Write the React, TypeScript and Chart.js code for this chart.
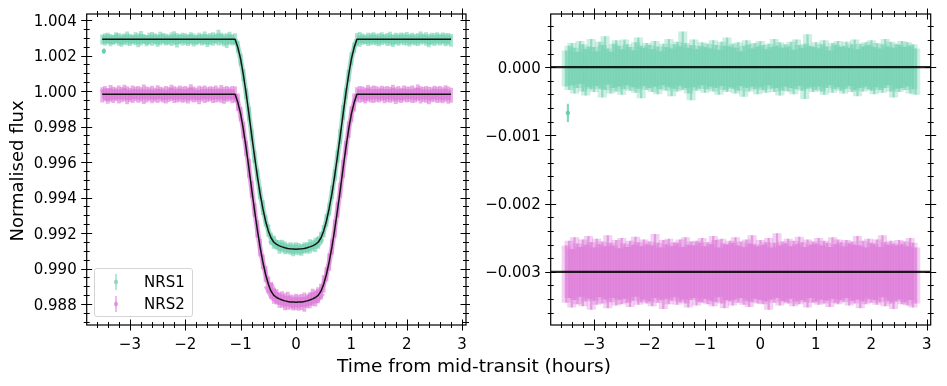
import React, { useEffect, useRef } from "react";
import { Chart, registerables } from "chart.js";

Chart.register(...registerables);

// ---------------- data ----------------
const X_MIN = -3.78;
const X_MAX = 3.07;
const X_TICKS = [-3, -2, -1, 0, 1, 2, 3];
const LC_Y_MIN = 0.98682;
const LC_Y_MAX = 1.00434;
const LC_Y_TICKS = [0.988, 0.99, 0.992, 0.994, 0.996, 0.998, 1.0, 1.002, 1.004];
const RES_Y_MIN = -0.00378;
const RES_Y_MAX = 0.00078;
const RES_Y_TICKS = [-0.003, -0.002, -0.001, 0.0];
const RES_LEVELS = [0.0, -0.003];
const SERIES = ["NRS1", "NRS2"];

// time from mid-transit (hours)
const TIME = [
  -3.5, -3.45, -3.4, -3.35, -3.3, -3.25, -3.2, -3.15, -3.1, -3.05,
  -3, -2.95, -2.9, -2.85, -2.8, -2.75, -2.7, -2.65, -2.6, -2.55,
  -2.5, -2.45, -2.4, -2.35, -2.3, -2.25, -2.2, -2.15, -2.1, -2.05,
  -2, -1.95, -1.9, -1.85, -1.8, -1.75, -1.7, -1.65, -1.6, -1.55,
  -1.5, -1.45, -1.4, -1.35, -1.3, -1.25, -1.2, -1.15, -1.1, -1.05,
  -1, -0.95, -0.9, -0.85, -0.8, -0.75, -0.7, -0.65, -0.6, -0.55,
  -0.5, -0.45, -0.4, -0.35, -0.3, -0.25, -0.2, -0.15, -0.1, -0.05,
  0, 0.05, 0.1, 0.15, 0.2, 0.25, 0.3, 0.35, 0.4, 0.45,
  0.5, 0.55, 0.6, 0.65, 0.7, 0.75, 0.8, 0.85, 0.9, 0.95,
  1, 1.05, 1.1, 1.15, 1.2, 1.25, 1.3, 1.35, 1.4, 1.45,
  1.5, 1.55, 1.6, 1.65, 1.7, 1.75, 1.8, 1.85, 1.9, 1.95,
  2, 2.05, 2.1, 2.15, 2.2, 2.25, 2.3, 2.35, 2.4, 2.45,
  2.5, 2.55, 2.6, 2.65, 2.7, 2.75, 2.8,
];

// transit model, NRS1 (offset +0.003)
const MODEL_NRS1 = [
  1.00292, 1.00292, 1.00292, 1.00292, 1.00292, 1.00292, 1.00292, 1.00292, 1.00292, 1.00292,
  1.00292, 1.00292, 1.00292, 1.00292, 1.00292, 1.00292, 1.00292, 1.00292, 1.00292, 1.00292,
  1.00292, 1.00292, 1.00292, 1.00292, 1.00292, 1.00292, 1.00292, 1.00292, 1.00292, 1.00292,
  1.00292, 1.00292, 1.00292, 1.00292, 1.00292, 1.00292, 1.00292, 1.00292, 1.00292, 1.00292,
  1.00292, 1.00292, 1.00292, 1.00292, 1.00292, 1.00292, 1.00292, 1.00292, 1.00292, 1.00245,
  1.0018, 1.0009, 0.99985, 0.9987, 0.9975, 0.99635, 0.99525, 0.99425, 0.9934, 0.99268,
  0.99212, 0.99172, 0.99148, 0.99136, 0.99128, 0.99122, 0.99117, 0.99113, 0.99111, 0.9911,
  0.99109, 0.9911, 0.99111, 0.99113, 0.99117, 0.99122, 0.99128, 0.99136, 0.99148, 0.99172,
  0.99212, 0.99268, 0.9934, 0.99425, 0.99525, 0.99635, 0.9975, 0.9987, 0.99985, 1.0009,
  1.0018, 1.00245, 1.00292, 1.00292, 1.00292, 1.00292, 1.00292, 1.00292, 1.00292, 1.00292,
  1.00292, 1.00292, 1.00292, 1.00292, 1.00292, 1.00292, 1.00292, 1.00292, 1.00292, 1.00292,
  1.00292, 1.00292, 1.00292, 1.00292, 1.00292, 1.00292, 1.00292, 1.00292, 1.00292, 1.00292,
  1.00292, 1.00292, 1.00292, 1.00292, 1.00292, 1.00292, 1.00292,
];

// transit model, NRS2
const MODEL_NRS2 = [
  0.99982, 0.99982, 0.99982, 0.99982, 0.99982, 0.99982, 0.99982, 0.99982, 0.99982, 0.99982,
  0.99982, 0.99982, 0.99982, 0.99982, 0.99982, 0.99982, 0.99982, 0.99982, 0.99982, 0.99982,
  0.99982, 0.99982, 0.99982, 0.99982, 0.99982, 0.99982, 0.99982, 0.99982, 0.99982, 0.99982,
  0.99982, 0.99982, 0.99982, 0.99982, 0.99982, 0.99982, 0.99982, 0.99982, 0.99982, 0.99982,
  0.99982, 0.99982, 0.99982, 0.99982, 0.99982, 0.99982, 0.99982, 0.99982, 0.99982, 0.99935,
  0.99871, 0.99782, 0.99678, 0.99564, 0.99445, 0.99331, 0.99222, 0.99123, 0.99039, 0.98968,
  0.98912, 0.98872, 0.98849, 0.98837, 0.98829, 0.98823, 0.98818, 0.98814, 0.98812, 0.98811,
  0.9881, 0.98811, 0.98812, 0.98814, 0.98818, 0.98823, 0.98829, 0.98837, 0.98849, 0.98872,
  0.98912, 0.98968, 0.99039, 0.99123, 0.99222, 0.99331, 0.99445, 0.99564, 0.99678, 0.99782,
  0.99871, 0.99935, 0.99982, 0.99982, 0.99982, 0.99982, 0.99982, 0.99982, 0.99982, 0.99982,
  0.99982, 0.99982, 0.99982, 0.99982, 0.99982, 0.99982, 0.99982, 0.99982, 0.99982, 0.99982,
  0.99982, 0.99982, 0.99982, 0.99982, 0.99982, 0.99982, 0.99982, 0.99982, 0.99982, 0.99982,
  0.99982, 0.99982, 0.99982, 0.99982, 0.99982, 0.99982, 0.99982,
];

// residual spread per time bin (units of 1e-5): upper / lower extent incl. error bars
const RES_NRS1_UP = [
  24, 31, 35, 28, 22, 38, 33, 26, 30, 41,
  29, 23, 37, 32, 45, 27, 22, 34, 39, 31,
  26, 40, 33, 29, 24, 36, 43, 31, 28, 35,
  32, 26, 38, 30, 23, 34, 29, 41, 27, 33,
  37, 30, 52, 35, 28, 32, 40, 26, 31, 36,
  29, 34, 27, 39, 32, 25, 37, 31, 43, 30,
  34, 28, 36, 23, 31, 39, 33, 27, 35, 30,
  38, 32, 26, 34, 29, 41, 31, 36, 28, 33,
  30, 37, 25, 40, 32, 28, 34, 48, 31, 29,
  36, 27, 33, 39, 30, 24, 35, 32, 38, 29,
  31, 37, 28, 33, 40, 26, 34, 30, 36, 32,
  39, 29, 35, 27, 33, 41, 30, 37, 28, 34,
  32, 38, 29, 36, 31, 33, 27,
];
const RES_NRS1_LO = [
  -28, -33, -26, -38, -30, -24, -35, -41, -29, -32,
  -36, -27, -31, -44, -33, -25, -38, -30, -35, -28,
  -40, -32, -26, -34, -29, -37, -31, -45, -27, -33,
  -30, -36, -28, -39, -32, -26, -34, -29, -42, -31,
  -35, -27, -33, -30, -38, -48, -29, -34, -31, -26,
  -37, -32, -28, -35, -30, -40, -27, -33, -36, -29,
  -31, -38, -34, -27, -43, -30, -35, -28, -32, -39,
  -29, -33, -37, -26, -31, -36, -30, -41, -34, -28,
  -35, -30, -39, -32, -27, -34, -46, -31, -29, -36,
  -33, -28, -35, -40, -30, -26, -37, -32, -29, -34,
  -38, -31, -27, -36, -33, -42, -30, -35, -28, -32,
  -34, -39, -29, -33, -37, -30, -26, -35, -44, -31,
  -36, -30, -33, -28, -38, -32, -40,
];
const RES_NRS2_UP = [
  38, 45, 33, 50, 41, 36, 47, 39, 52, 43,
  35, 48, 40, 44, 37, 53, 42, 38, 46, 34,
  49, 41, 36, 45, 39, 51, 43, 37, 47, 40,
  44, 38, 55, 42, 35, 46, 40, 48, 37, 43,
  41, 47, 36, 50, 39, 44, 38, 45, 42, 49,
  37, 43, 40, 52, 46, 35, 48, 41, 39, 45,
  42, 50, 38, 44, 36, 47, 41, 53, 40, 37,
  46, 39, 43, 49, 35, 42, 56, 38, 44, 41,
  48, 37, 45, 40, 51, 43, 36, 47, 39, 44,
  41, 49, 38, 45, 42, 36, 50, 40, 47, 43,
  37, 46, 41, 44, 39, 52, 38, 45, 35, 48,
  42, 40, 47, 36, 53, 43, 39, 45, 41, 38,
  46, 40, 44, 37, 49, 42, 35,
];
const RES_NRS2_LO = [
  -45, -38, -52, -41, -47, -36, -50, -43, -39, -55,
  -42, -48, -37, -46, -40, -53, -44, -38, -49, -41,
  -47, -39, -45, -51, -42, -36, -48, -44, -40, -46,
  -43, -50, -38, -45, -41, -54, -39, -47, -42, -37,
  -48, -44, -40, -46, -52, -41, -38, -49, -43, -45,
  -39, -47, -42, -50, -44, -37, -46, -53, -41, -43,
  -49, -40, -45, -38, -48, -42, -51, -44, -39, -46,
  -41, -47, -43, -55, -40, -45, -38, -49, -42, -44,
  -46, -39, -50, -43, -47, -41, -44, -52, -38, -45,
  -43, -48, -40, -46, -42, -51, -39, -45, -47, -41,
  -44, -38, -49, -42, -46, -40, -53, -43, -47, -39,
  -45, -41, -48, -44, -37, -50, -42, -46, -54, -43,
  -40, -47, -44, -49, -41, -52, -46,
];
const RES_NRS2_OFFSET = -0.003;
const RES_UNIT = 1e-5;

// single low first point of NRS1
const OUTLIER_TIME = [-3.47];
const OUTLIER_FLUX = [1.00225];
const OUTLIER_RESID = [-0.00067];
const OUTLIER_ERR = [0.00013];

// ---------------- style ----------------
const GREEN_BAND = "rgba(102,205,170,0.55)";
const PINK_BAND = "rgba(218,112,214,0.55)";
const GREEN_WIDE = "rgba(102,205,170,0.32)";
const PINK_WIDE = "rgba(218,112,214,0.32)";
const GREEN_CORE = "rgba(102,205,170,0.6)";
const PINK_CORE = "rgba(218,112,214,0.6)";
const GREEN_LINE = "rgba(102,205,170,0.8)";
const GREEN = "rgb(112,207,174)";
const GREEN_LEG = "rgba(102,205,170,0.6)";
const PINK_LEG = "rgba(218,112,214,0.6)";
const FAMILY = "'DejaVu Sans', sans-serif";
const TICK_FONT = "15px 'DejaVu Sans', sans-serif";

Chart.defaults.font.family = FAMILY;
Chart.defaults.font.size = 15;
Chart.defaults.color = "#000";

const minus = (s: string) => s.replace("-", "\u2212");
const fmtX = (v: number) => minus(String(v));
const fmtY = (v: number) => minus(v.toFixed(3));

function frameTicksPlugin(xMinor: number, yMinor: number, hLevels: number[], yTicks: number[]) {
  return {
    id: "frameTicks",
    afterDatasetsDraw(chart: any) {
      const { ctx, chartArea: a, scales } = chart;
      if (!hLevels.length) return;
      ctx.save();
      ctx.beginPath();
      ctx.rect(a.left, a.top, a.right - a.left, a.bottom - a.top);
      ctx.clip();
      ctx.strokeStyle = "rgba(0,0,0,0.85)";
      ctx.lineWidth = 2.3;
      for (const v of hLevels) {
        const y = scales.y.getPixelForValue(v);
        ctx.beginPath();
        ctx.moveTo(a.left, y);
        ctx.lineTo(a.right, y);
        ctx.stroke();
      }
      ctx.restore();
    },
    afterDraw(chart: any) {
      const { ctx, chartArea: a, scales } = chart;
      const xs = scales.x;
      const ys = scales.y;
      ctx.save();
      ctx.strokeStyle = "#000";
      ctx.lineWidth = 1;
      const seg = (x1: number, y1: number, x2: number, y2: number) => {
        ctx.beginPath();
        ctx.moveTo(x1, y1);
        ctx.lineTo(x2, y2);
        ctx.stroke();
      };
      const xTick = (v: number, len: number) => {
        const p = Math.round(xs.getPixelForValue(v)) + 0.5;
        seg(p, a.bottom - len, p, a.bottom + len);
        seg(p, a.top - len, p, a.top + len);
      };
      const yTick = (v: number, len: number) => {
        const p = Math.round(ys.getPixelForValue(v)) + 0.5;
        seg(a.left - len, p, a.left + len, p);
        seg(a.right - len, p, a.right + len, p);
      };
      for (let k = Math.ceil(xs.min / xMinor); k * xMinor <= xs.max; k++) xTick(k * xMinor, 3);
      for (let k = Math.ceil(ys.min / yMinor); k * yMinor <= ys.max; k++) yTick(k * yMinor, 3);
      for (const v of X_TICKS) xTick(v, 5.5);
      for (const v of yTicks) yTick(v, 5.5);
      ctx.lineWidth = 1.2;
      ctx.strokeRect(a.left, a.top, a.right - a.left, a.bottom - a.top);

      // tick labels
      ctx.fillStyle = "#000";
      ctx.font = TICK_FONT;
      ctx.textBaseline = "alphabetic";
      ctx.textAlign = "center";
      for (const v of X_TICKS) ctx.fillText(fmtX(v), xs.getPixelForValue(v), a.bottom + 23.5);
      ctx.textAlign = "right";
      for (const v of yTicks) ctx.fillText(fmtY(v), a.left - 10, ys.getPixelForValue(v) + 5.5);
      ctx.restore();
    },
  };
}

function xScaleOpts() {
  return {
    type: "linear",
    min: X_MIN,
    max: X_MAX,
    offset: false,
    grid: { display: false, drawTicks: false },
    border: { display: false },
    afterFit: (s: any) => {
      s.height = 40;
    },
    ticks: { display: false },
  };
}

function yScaleOpts(min: number, max: number, width: number) {
  return {
    type: "linear",
    min,
    max,
    grid: { display: false, drawTicks: false },
    border: { display: false },
    afterFit: (s: any) => {
      s.width = width;
    },
    ticks: { display: false },
  };
}

function bandDataset(points: any[], color: string, thickness: number, order = 5) {
  return {
    type: "bar",
    data: points,
    backgroundColor: color,
    borderWidth: 0,
    barThickness: thickness,
    grouped: false,
    order,
  };
}

function lineDataset(points: any[], color: string, width: number, order: number) {
  return {
    type: "line",
    data: points,
    borderColor: color,
    borderWidth: width,
    pointRadius: 0,
    tension: 0,
    fill: false,
    borderJoinStyle: "round",
    borderCapStyle: "butt",
    order,
  };
}

// data trace: wide where flat (scatter band core), narrower on steep ingress/egress
function traceDataset(points: any[], color: string, flatWidth: number, steepWidth: number) {
  return {
    ...lineDataset(points, color, flatWidth, 4),
    segment: {
      borderWidth: (c: any) => (Math.abs(c.p1.y - c.p0.y) > 6 ? steepWidth : flatWidth),
    },
  };
}

function outlierPoint(points: any[]) {
  return {
    type: "line",
    data: points,
    showLine: false,
    pointRadius: 2.2,
    pointBackgroundColor: GREEN,
    pointBorderWidth: 0,
    order: 3,
  };
}

function buildLightCurve() {
  const band1 = TIME.map((t, i) => ({
    x: t,
    y: [MODEL_NRS1[i] + RES_NRS1_LO[i] * RES_UNIT, MODEL_NRS1[i] + RES_NRS1_UP[i] * RES_UNIT],
  }));
  const band2 = TIME.map((t, i) => ({
    x: t,
    y: [MODEL_NRS2[i] + RES_NRS2_LO[i] * RES_UNIT, MODEL_NRS2[i] + RES_NRS2_UP[i] * RES_UNIT],
  }));
  const trace1 = TIME.map((t, i) => ({ x: t, y: MODEL_NRS1[i] + ((RES_NRS1_UP[i] + RES_NRS1_LO[i]) / 2) * RES_UNIT }));
  const trace2 = TIME.map((t, i) => ({ x: t, y: MODEL_NRS2[i] + ((RES_NRS2_UP[i] + RES_NRS2_LO[i]) / 2) * RES_UNIT }));
  const model1 = TIME.map((t, i) => ({ x: t, y: MODEL_NRS1[i] }));
  const model2 = TIME.map((t, i) => ({ x: t, y: MODEL_NRS2[i] }));
  const outBar = OUTLIER_TIME.map((t, i) => ({ x: t, y: [OUTLIER_FLUX[i] - OUTLIER_ERR[i], OUTLIER_FLUX[i] + OUTLIER_ERR[i]] }));
  const outPt = OUTLIER_TIME.map((t, i) => ({ x: t, y: OUTLIER_FLUX[i] }));
  return [
    bandDataset(band1, GREEN_BAND, 3.2),
    bandDataset(band2, PINK_BAND, 3.2),
    bandDataset(outBar, GREEN_LINE, 1.5, 3),
    outlierPoint(outPt),
    traceDataset(trace1, GREEN_CORE, 8, 5),
    traceDataset(trace2, PINK_CORE, 10, 5),
    lineDataset(model1, "#151515", 1.5, 0),
    lineDataset(model2, "#151515", 1.5, 0),
  ];
}

function buildResiduals() {
  const band1 = TIME.map((t, i) => ({ x: t, y: [RES_NRS1_LO[i] * RES_UNIT, RES_NRS1_UP[i] * RES_UNIT] }));
  const band2 = TIME.map((t, i) => ({
    x: t,
    y: [RES_NRS2_OFFSET + RES_NRS2_LO[i] * RES_UNIT, RES_NRS2_OFFSET + RES_NRS2_UP[i] * RES_UNIT],
  }));
  const outBar = OUTLIER_TIME.map((t, i) => ({ x: t, y: [OUTLIER_RESID[i] - OUTLIER_ERR[i], OUTLIER_RESID[i] + OUTLIER_ERR[i]] }));
  const outPt = OUTLIER_TIME.map((t, i) => ({ x: t, y: OUTLIER_RESID[i] }));
  return [
    bandDataset(band1, GREEN_WIDE, 8.5, 6),
    bandDataset(band2, PINK_WIDE, 8.5, 6),
    bandDataset(band1, GREEN_BAND, 1.6, 5),
    bandDataset(band2, PINK_BAND, 1.6, 5),
    bandDataset(outBar, GREEN_LINE, 1.5, 3),
    outlierPoint(outPt),
  ];
}

function makeChart(canvas: HTMLCanvasElement, datasets: any[], y: any, padding: any, plugin: any) {
  return new Chart(canvas, {
    type: "bar",
    data: { datasets },
    options: {
      animation: false,
      responsive: false,
      maintainAspectRatio: false,
      devicePixelRatio: 1,
      layout: { padding },
      plugins: { legend: { display: false }, tooltip: { enabled: false } },
      scales: { x: xScaleOpts() as any, y },
    } as any,
    plugins: [plugin],
  } as any);
}

export default function App() {
  const leftRef = useRef<HTMLCanvasElement>(null);
  const rightRef = useRef<HTMLCanvasElement>(null);

  useEffect(() => {
    const c1 = makeChart(
      leftRef.current!,
      buildLightCurve(),
      yScaleOpts(LC_Y_MIN, LC_Y_MAX, 86.7),
      { left: 0, top: 14, right: 3.3, bottom: 21 },
      frameTicksPlugin(0.2, 0.0005, [], LC_Y_TICKS)
    );
    const c2 = makeChart(
      rightRef.current!,
      buildResiduals(),
      yScaleOpts(RES_Y_MIN, RES_Y_MAX, 80.7),
      { left: 0, top: 14, right: 16.3, bottom: 21 },
      frameTicksPlugin(0.2, 0.0002, RES_LEVELS, RES_Y_TICKS)
    );
    return () => {
      c1.destroy();
      c2.destroy();
    };
  }, []);

  const legendRow = (label: string, color: string, top: number) => (
    <div key={label} style={{ position: "absolute", left: 0, top, width: 97, height: 22 }}>
      <svg width={30} height={22} style={{ position: "absolute", left: 11, top: 0 }}>
        <line x1={10} y1={3} x2={10} y2={19} stroke={color} strokeWidth={1.6} />
        <circle cx={10} cy={11} r={2.2} fill={color} />
      </svg>
      <span
        style={{
          position: "absolute",
          left: 49,
          top: 2,
          fontSize: 15,
          lineHeight: "18px",
          color: "#000",
        }}
      >
        {label}
      </span>
    </div>
  );

  return (
    <div
      style={{
        position: "absolute",
        left: 0,
        top: 0,
        width: 947,
        height: 386,
        background: "#fff",
        fontFamily: FAMILY,
        overflow: "hidden",
      }}
    >
      <div style={{ position: "absolute", left: 0, top: 0, width: 470, height: 386 }}>
        <canvas ref={leftRef} width={470} height={386} style={{ width: 470, height: 386, display: "block" }} />
      </div>
      <div style={{ position: "absolute", left: 470, top: 0, width: 477, height: 386 }}>
        <canvas ref={rightRef} width={477} height={386} style={{ width: 477, height: 386, display: "block" }} />
      </div>
      <div
        style={{
          position: "absolute",
          left: 94,
          top: 268,
          width: 97,
          height: 47,
          border: "1px solid #d5d5d5",
          borderRadius: 3,
          background: "rgba(255,255,255,0.8)",
        }}
      >
        {legendRow(SERIES[0], GREEN_LEG, 1.5)}
        {legendRow(SERIES[1], PINK_LEG, 23.5)}
      </div>
      <div
        style={{
          position: "absolute",
          left: 17 - 100,
          top: 171 - 9,
          width: 200,
          height: 18,
          lineHeight: "18px",
          fontSize: 18,
          textAlign: "center",
          transform: "rotate(-90deg)",
          color: "#000",
          whiteSpace: "nowrap",
        }}
      >
        Normalised flux
      </div>
      <div
        style={{
          position: "absolute",
          left: 474 - 200,
          top: 357,
          width: 400,
          height: 18,
          lineHeight: "18px",
          fontSize: 18.5,
          textAlign: "center",
          color: "#000",
          whiteSpace: "nowrap",
        }}
      >
        Time from mid-transit (hours)
      </div>
    </div>
  );
}
